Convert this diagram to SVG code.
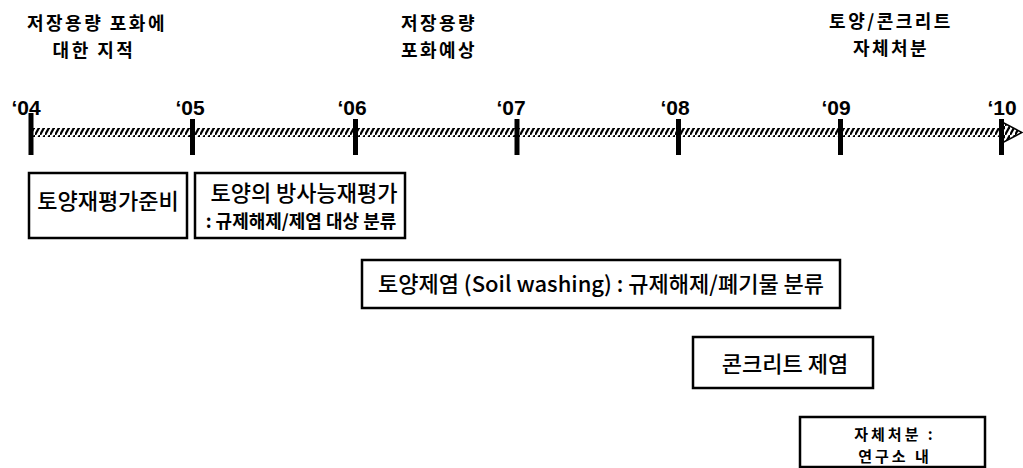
<svg xmlns="http://www.w3.org/2000/svg" width="1023" height="468" viewBox="0 0 1023 468">
<style>
text{font-family:"Noto Sans CJK KR","Noto Sans",sans-serif;fill:#000;text-anchor:middle}
.lbl{font-size:18px;font-weight:700;letter-spacing:2.5px}
.yr{font-family:"Liberation Sans",Arial,sans-serif;font-size:21px;font-weight:700}
.box{fill:#fff;stroke:#000;stroke-width:2.5}
.t{font-size:22px;font-weight:500}
.tb{font-size:18px;font-weight:700}
.tb2{font-size:15px;font-weight:700;letter-spacing:3px}
.tick{fill:#000}
</style>
<defs>
<pattern id="hatch" patternUnits="userSpaceOnUse" width="5" height="9">
<rect width="5" height="9" fill="#fff"/>
<path d="M-1,10.8 L6,-1.8" stroke="#000" stroke-width="2.3"/>
</pattern>
</defs>
<g id="labels">
<text class="lbl"><tspan x="97" y="30">저장용량 포화에</tspan><tspan x="94" y="56.5">대한 지적</tspan></text>
<text class="lbl"><tspan x="439" y="30">저장용량</tspan><tspan x="439" y="56.5">포화예상</tspan></text>
<text class="lbl"><tspan x="891" y="28">토양/콘크리트</tspan><tspan x="891" y="54.5">자체처분</tspan></text>
</g>
<g id="timeline">
<rect x="31" y="128" width="975" height="9" fill="url(#hatch)"/>
<polygon points="1000,121 1022,132.5 1000,144" fill="url(#hatch)" stroke="#000" stroke-width="1.5"/>
<rect class="tick" x="28.5" y="113" width="5" height="42"/>
<rect class="tick" x="190" y="119" width="5" height="36"/>
<rect class="tick" x="353" y="119" width="5" height="36"/>
<rect class="tick" x="514.5" y="119" width="5" height="36"/>
<rect class="tick" x="676" y="119" width="5" height="36"/>
<rect class="tick" x="838" y="119" width="5" height="36"/>
<rect class="tick" x="999" y="119" width="5" height="36"/>
<text class="yr" x="26" y="115">‘04</text>
<text class="yr" x="190" y="115">‘05</text>
<text class="yr" x="352" y="115">‘06</text>
<text class="yr" x="511" y="115">‘07</text>
<text class="yr" x="675" y="115">‘08</text>
<text class="yr" x="836" y="115">‘09</text>
<text class="yr" x="1002" y="115">‘10</text>
</g>
<g id="box1">
<rect class="box" x="29" y="173" width="158" height="65"/>
<text class="t" x="108" y="209">토양재평가준비</text>
</g>
<g id="box2">
<rect class="box" x="195" y="173" width="210" height="65"/>
<text class="t" x="304" y="201">토양의 방사능재평가</text>
<text class="tb" x="301" y="228">: 규제해제/제염 대상 분류</text>
</g>
<g id="box3">
<rect class="box" x="362" y="260" width="478" height="48"/>
<text class="t" x="601" y="292">토양제염 (Soil washing) : 규제해제/폐기물 분류</text>
</g>
<g id="box4">
<rect class="box" x="693" y="337" width="180" height="51"/>
<text class="t" x="785" y="372">콘크리트 제염</text>
</g>
<g id="box5">
<rect class="box" x="800" y="417" width="185" height="50"/>
<text class="tb2"><tspan x="895" y="440">자체처분 :</tspan><tspan x="895" y="462">연구소 내</tspan></text>
</g>
</svg>
